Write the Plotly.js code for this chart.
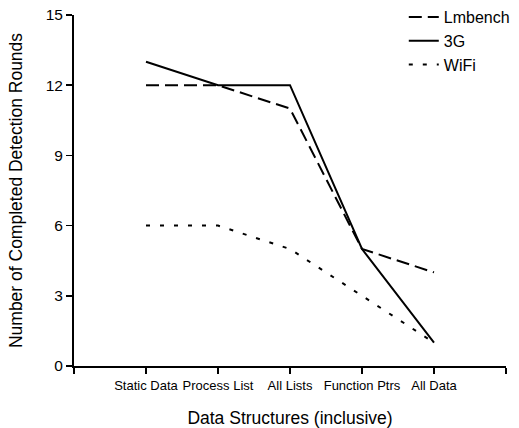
<!DOCTYPE html>
<html>
<head>
<meta charset="utf-8">
<script src="https://cdn.plot.ly/plotly-3.0.1.min.js"></script>
<style>html,body{margin:0;padding:0;background:#fff;}#chart{width:519px;height:428px;}</style>
</head>
<body>
<div id="chart"></div>
<script>
const categories = ["Static Data", "Process List", "All Lists", "Function Ptrs", "All Data"];
const lmbench = [12, 12, 11, 5, 4];
const g3 = [13, 12, 12, 5, 1];
const wifi = [6, 6, 5, 3, 1];
const yTicks = [0, 3, 6, 9, 12, 15];

const xs = categories.map((c, i) => i + 1);
const tickvals = [0].concat(xs, [categories.length + 1]);
const ticktext = [""].concat(categories, [""]);

const traces = [
  {x: xs, y: lmbench, name: "Lmbench", mode: "lines", line: {color: "#000", width: 2, dash: "13px,6px"}},
  {x: xs, y: g3, name: "3G", mode: "lines", line: {color: "#000", width: 2, dash: "solid"}},
  {x: xs, y: wifi, name: "WiFi", mode: "lines", line: {color: "#000", width: 2, dash: "4px,10px"}}
];

const layout = {
  width: 519, height: 428,
  margin: {l: 74, r: 13, t: 15, b: 62, autoexpand: false},
  paper_bgcolor: "#fff", plot_bgcolor: "#fff",
  font: {family: "Liberation Sans, Arial, sans-serif", color: "#000", size: 13},
  showlegend: true,
  legend: {xref: "container", yref: "container", x: 0.778, y: 1.012, xanchor: "left", yanchor: "top",
           bgcolor: "rgba(0,0,0,0)", font: {size: 16}, tracegroupgap: 0},
  xaxis: {
    range: [0, categories.length + 1], tickmode: "array", tickvals: tickvals, ticktext: ticktext,
    showgrid: false, zeroline: false, showline: true, linecolor: "#000", linewidth: 2,
    ticks: "outside", ticklen: 6, tickwidth: 1.5, tickcolor: "#000",
    tickfont: {size: 13},
    title: {text: "Data Structures (inclusive)", font: {size: 17.5}, standoff: 21}
  },
  yaxis: {
    range: [0, 15], tickmode: "array", tickvals: yTicks,
    showgrid: false, zeroline: false, showline: true, linecolor: "#000", linewidth: 2,
    ticks: "outside", ticklen: 6, tickwidth: 1.5, tickcolor: "#000",
    tickfont: {size: 15.5},
    title: {text: "Number of Completed Detection Rounds", font: {size: 17.5}, standoff: 19}
  }
};

Plotly.newPlot("chart", traces, layout, {displayModeBar: false, staticPlot: true});
</script>
</body>
</html>
